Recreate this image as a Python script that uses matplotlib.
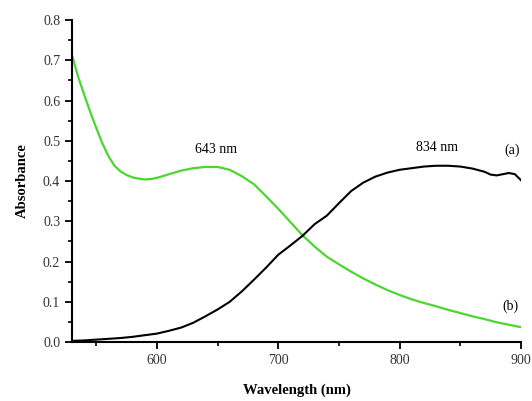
import matplotlib
matplotlib.use("Agg")
import matplotlib.pyplot as plt
from matplotlib.ticker import MultipleLocator

# curve (b), green
wl_b = [530, 535, 540, 545, 550, 555, 560, 565, 570, 575, 580, 585, 590, 595,
        600, 610, 620, 630, 640, 650, 660, 670, 680, 690, 700, 710, 720, 730,
        740, 750, 760, 770, 780, 790, 800, 810, 820, 830, 840, 850, 860, 870,
        880, 890, 900]
abs_b = [0.713, 0.660, 0.615, 0.572, 0.532, 0.494, 0.462, 0.438, 0.424, 0.415,
         0.409, 0.406, 0.404, 0.405, 0.408, 0.417, 0.426, 0.432, 0.435, 0.435,
         0.428, 0.412, 0.392, 0.362, 0.331, 0.298, 0.265, 0.237, 0.212, 0.193,
         0.175, 0.158, 0.143, 0.129, 0.117, 0.106, 0.097, 0.089, 0.080, 0.072,
         0.064, 0.057, 0.049, 0.043, 0.037]

# curve (a), black
wl_a = [530, 540, 550, 560, 570, 580, 590, 600, 610, 620, 630, 640, 650, 660,
        670, 680, 690, 700, 710, 720, 730, 740, 750, 760, 770, 780, 790, 800,
        810, 820, 830, 840, 850, 860, 870, 875, 880, 885, 890, 895, 900]
abs_a = [0.003, 0.004, 0.006, 0.008, 0.010, 0.013, 0.017, 0.021, 0.028, 0.036,
         0.048, 0.064, 0.081, 0.100, 0.126, 0.155, 0.185, 0.217, 0.240, 0.264,
         0.293, 0.314, 0.345, 0.375, 0.396, 0.411, 0.421, 0.428, 0.432, 0.436,
         0.438, 0.438, 0.436, 0.431, 0.423, 0.416, 0.414, 0.417, 0.420, 0.417,
         0.402]

plt.rcParams['font.family'] = ['Liberation Serif', 'DejaVu Serif']

fig = plt.figure(figsize=(5.32, 4.01), dpi=100)
ax = fig.add_axes([0.1353, 0.147, 0.844, 0.803])

ax.plot(wl_b, abs_b, color='#4cd630', lw=1.6)
ax.plot(wl_a, abs_a, color='black', lw=1.5)

ax.set_xlim(530, 900)
ax.set_ylim(0, 0.8)
ax.xaxis.set_major_locator(MultipleLocator(100))
ax.xaxis.set_minor_locator(MultipleLocator(50))
ax.yaxis.set_major_locator(MultipleLocator(0.1))
ax.yaxis.set_minor_locator(MultipleLocator(0.05))
ax.yaxis.set_major_formatter(matplotlib.ticker.FormatStrFormatter('%.1f'))

for side in ['top', 'right']:
    ax.spines[side].set_visible(False)
for side in ['left', 'bottom']:
    ax.spines[side].set_linewidth(1.5)
ax.tick_params(which='major', direction='out', length=5, width=1.3,
               labelsize=10, colors='black', labelcolor='#333333')
ax.tick_params(which='minor', direction='out', length=3, width=1.2)

ax.set_xlabel('Wavelength (nm)', fontsize=10.5, fontweight='bold', labelpad=12)
ax.set_ylabel('Absorbance', fontsize=10.5, fontweight='bold', labelpad=10)

ax.text(649, 0.462, '643 nm', ha='center', va='bottom', fontsize=10)
ax.text(831, 0.468, '834 nm', ha='center', va='bottom', fontsize=10)
ax.text(893, 0.46, '(a)', ha='center', va='bottom', fontsize=10)
ax.text(891, 0.072, '(b)', ha='center', va='bottom', fontsize=10)

fig.savefig('out.png', dpi=100)
